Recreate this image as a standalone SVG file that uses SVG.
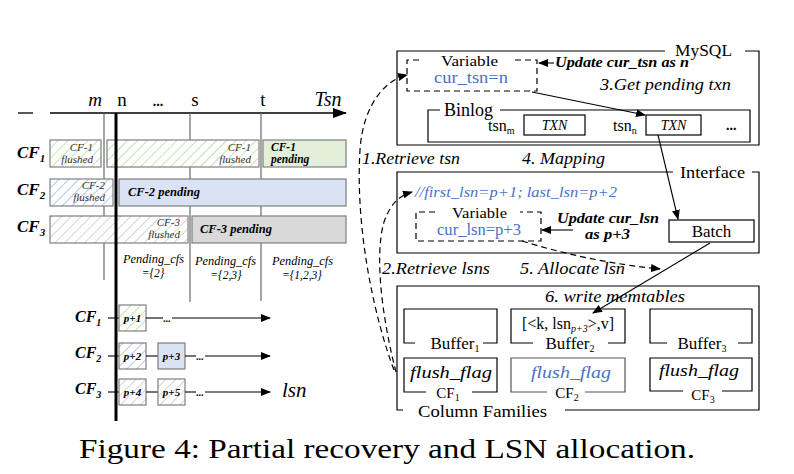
<svg xmlns="http://www.w3.org/2000/svg" width="794" height="474" viewBox="0 0 794 474" font-family="Liberation Serif, serif">
<style>
text{font-family:Liberation Serif,Tinos,Nimbus Roman,serif;fill:#000}
.it{font-style:italic}
.bi{font-style:italic;font-weight:bold}
.lbl{font-size:11px;font-style:italic;fill:#333}
.blue{fill:#4a72c8}
.box{fill:none;stroke:#000;stroke-width:1.2}
.gbox{stroke:#7f7f7f;stroke-width:1.2}
.dash{fill:none;stroke:#000;stroke-width:1.2;stroke-dasharray:6,4}
.vl{stroke:#6a6a6a;stroke-width:1.2}
.ln{stroke:#000;stroke-width:1.1;fill:none}
</style>
<defs>
<pattern id="hg" patternUnits="userSpaceOnUse" width="7" height="7" patternTransform="rotate(45)"><rect width="7" height="7" fill="#fff"/><line x1="0" y1="0" x2="0" y2="7" stroke="#a9d18e" stroke-width="1.3"/></pattern>
<pattern id="hb" patternUnits="userSpaceOnUse" width="7" height="7" patternTransform="rotate(45)"><rect width="7" height="7" fill="#fff"/><line x1="0" y1="0" x2="0" y2="7" stroke="#8faadc" stroke-width="1.3"/></pattern>
<pattern id="hy" patternUnits="userSpaceOnUse" width="7" height="7" patternTransform="rotate(45)"><rect width="7" height="7" fill="#fff"/><line x1="0" y1="0" x2="0" y2="7" stroke="#bfbfbf" stroke-width="1.3"/></pattern>
<marker id="ah" markerWidth="10" markerHeight="8" refX="9" refY="4" orient="auto" markerUnits="userSpaceOnUse"><path d="M0,0 L10,4 L0,8 z" fill="#000"/></marker>
<marker id="big" markerWidth="14" markerHeight="10" refX="13" refY="5" orient="auto" markerUnits="userSpaceOnUse"><path d="M0,0 L14,5 L0,10 z" fill="#000"/></marker>
</defs>

<!-- ===== Left: timeline ===== -->
<g id="timeline">
<line x1="18" y1="113" x2="33" y2="113" stroke="#000" stroke-width="1.3"/>
<line x1="50" y1="113" x2="346" y2="113" stroke="#000" stroke-width="1.5" marker-end="url(#big)"/>
<text x="95" y="106" font-size="19" class="it" text-anchor="middle">m</text>
<text x="122" y="106" font-size="19" text-anchor="middle">n</text>
<text x="158" y="106" font-size="14" text-anchor="middle" font-weight="bold">...</text>
<text x="195" y="106" font-size="19" text-anchor="middle">s</text>
<text x="263" y="106" font-size="19" text-anchor="middle">t</text>
<text x="328" y="106" font-size="20" class="it" text-anchor="middle">Tsn</text>
<line x1="104" y1="113" x2="104" y2="280" class="vl"/>
<line x1="190" y1="113" x2="190" y2="302" class="vl"/>
<line x1="261" y1="113" x2="261" y2="301" class="vl"/>
</g>

<g id="row-cf1">
<text x="17" y="158" font-size="17" class="bi">CF<tspan dy="4" font-size="11">1</tspan></text>
<rect x="50" y="140" width="51" height="27" fill="url(#hg)" class="gbox"/>
<text x="93" y="151" class="lbl" text-anchor="end">CF-1</text>
<text x="93" y="163" class="lbl" text-anchor="end">flushed</text>
<rect x="107" y="140" width="152" height="27" fill="url(#hg)" class="gbox"/>
<text x="251" y="151" class="lbl" text-anchor="end">CF-1</text>
<text x="251" y="163" class="lbl" text-anchor="end">flushed</text>
<rect x="263" y="140" width="83" height="27" fill="#e2efd9" class="gbox"/>
<text x="271" y="151" font-size="11.5" class="bi">CF-1</text>
<text x="271" y="163" font-size="11.5" class="bi">pending</text>
</g>

<g id="row-cf2">
<text x="17" y="195" font-size="17" class="bi">CF<tspan dy="4" font-size="11">2</tspan></text>
<rect x="50" y="179" width="63" height="27" fill="url(#hb)" class="gbox"/>
<text x="105" y="189" class="lbl" text-anchor="end">CF-2</text>
<text x="105" y="201" class="lbl" text-anchor="end">flushed</text>
<rect x="119" y="179" width="227" height="27" fill="#dae3f3" class="gbox"/>
<text x="128" y="196" font-size="12.5" class="bi">CF-2 pending</text>
</g>

<g id="row-cf3">
<text x="17" y="232" font-size="17" class="bi">CF<tspan dy="4" font-size="11">3</tspan></text>
<rect x="50" y="216" width="138" height="27" fill="url(#hy)" class="gbox"/>
<text x="180" y="226" class="lbl" text-anchor="end">CF-3</text>
<text x="180" y="238" class="lbl" text-anchor="end">flushed</text>
<rect x="192" y="216" width="154" height="27" fill="#d9d9d9" class="gbox"/>
<text x="200" y="233" font-size="12.5" class="bi">CF-3 pending</text>
</g>

<g id="pending-labels">
<text x="123" y="263" class="it" font-size="11.5" textLength="61" lengthAdjust="spacingAndGlyphs">Pending_cfs</text>
<text x="153" y="277" class="it" text-anchor="middle" font-size="11.5">={2}</text>
<text x="195" y="265" class="it" font-size="11.5" textLength="61" lengthAdjust="spacingAndGlyphs">Pending_cfs</text>
<text x="226" y="279" class="it" text-anchor="middle" font-size="11.5">={2,3}</text>
<text x="272" y="265" class="it" font-size="11.5" textLength="61" lengthAdjust="spacingAndGlyphs">Pending_cfs</text>
<text x="302" y="279" class="it" text-anchor="middle" font-size="11.5">={1,2,3}</text>
</g>

<!-- lsn rows -->
<g id="lsn-cf1">
<text x="75" y="322" font-size="16" class="bi">CF<tspan dy="4" font-size="10">1</tspan></text>
<line x1="108" y1="318" x2="119" y2="318" class="ln"/>
<rect x="119" y="305" width="27" height="26" fill="url(#hg)" class="gbox"/>
<text x="132.5" y="322" font-size="11" class="bi" text-anchor="middle">p+1</text>
<line x1="146" y1="318" x2="163" y2="318" class="ln"/>
<text x="163" y="322" font-size="10" font-weight="bold">...</text>
<line x1="172" y1="318" x2="270" y2="318" class="ln" marker-end="url(#ah)"/>
</g>
<g id="lsn-cf2">
<text x="75" y="358" font-size="16" class="bi">CF<tspan dy="4" font-size="10">2</tspan></text>
<line x1="108" y1="356" x2="119" y2="356" class="ln"/>
<rect x="119" y="343" width="27" height="26" fill="url(#hb)" class="gbox"/>
<text x="132.5" y="360" font-size="11" class="bi" text-anchor="middle">p+2</text>
<line x1="146" y1="356" x2="158" y2="356" class="ln"/>
<rect x="158" y="343" width="27" height="26" fill="#dae3f3" class="gbox"/>
<text x="171.5" y="360" font-size="11" class="bi" text-anchor="middle">p+3</text>
<line x1="185" y1="356" x2="196" y2="356" class="ln"/>
<text x="196" y="360" font-size="10" font-weight="bold">...</text>
<line x1="205" y1="356" x2="270" y2="356" class="ln" marker-end="url(#ah)"/>
</g>
<g id="lsn-cf3">
<text x="75" y="394" font-size="16" class="bi">CF<tspan dy="4" font-size="10">3</tspan></text>
<line x1="108" y1="392" x2="119" y2="392" class="ln"/>
<rect x="119" y="379" width="27" height="26" fill="url(#hy)" class="gbox"/>
<text x="132.5" y="396" font-size="11" class="bi" text-anchor="middle">p+4</text>
<line x1="146" y1="392" x2="158" y2="392" class="ln"/>
<rect x="158" y="379" width="27" height="26" fill="url(#hy)" class="gbox"/>
<text x="171.5" y="396" font-size="11" class="bi" text-anchor="middle">p+5</text>
<line x1="185" y1="392" x2="196" y2="392" class="ln"/>
<text x="196" y="396" font-size="10" font-weight="bold">...</text>
<line x1="205" y1="392" x2="270" y2="392" class="ln" marker-end="url(#ah)"/>
<text x="282" y="397" font-size="21" class="it">lsn</text>
</g>
<line id="n-line" x1="116" y1="113" x2="116" y2="421" stroke="#000" stroke-width="3"/>

<!-- ===== Right: MySQL ===== -->
<g id="mysql">
<path d="M665,51 H397 V145 H759 V51 H745" class="box"/>
<text x="675" y="56" font-size="17" textLength="57" lengthAdjust="spacingAndGlyphs">MySQL</text>
</g>
<g id="var-tsn">
<path d="M419,60 H407 V91 H537 V60 H512" class="dash"/>
<text x="441" y="66" font-size="14" textLength="57" lengthAdjust="spacingAndGlyphs">Variable</text>
<text x="434" y="83" font-size="16" class="blue" textLength="74" lengthAdjust="spacingAndGlyphs">cur_tsn=n</text>
</g>
<text x="555" y="67" font-size="14" class="bi" textLength="134" lengthAdjust="spacingAndGlyphs">Update cur_tsn as n</text>
<text x="600" y="90" font-size="17" class="it" textLength="131" lengthAdjust="spacingAndGlyphs">3.Get pending txn</text>
<g id="binlog">
<path d="M440,110 H428 V142 H750 V110 H500" class="box"/>
<text x="444" y="116" font-size="18">Binlog</text>
<text x="488" y="131" font-size="16">tsn<tspan dy="3" font-size="10">m</tspan></text>
<rect x="524" y="115" width="61" height="20" class="box"/>
<text x="554.5" y="130" font-size="14" class="it" text-anchor="middle">TXN</text>
<text x="613" y="131" font-size="16">tsn<tspan dy="3" font-size="10">n</tspan></text>
<rect x="646" y="115" width="55" height="20" class="box"/>
<text x="673.5" y="130" font-size="14" class="it" text-anchor="middle">TXN</text>
<text x="726" y="130" font-size="14" font-weight="bold">...</text>
</g>

<text x="362" y="164" font-size="16" class="it" textLength="98" lengthAdjust="spacingAndGlyphs">1.Retrieve tsn</text>
<text x="522" y="164" font-size="16" class="it" textLength="83" lengthAdjust="spacingAndGlyphs">4. Mapping</text>

<g id="interface">
<path d="M673,172 H397 V253 H759 V172 H752" class="box"/>
<text x="680" y="178" font-size="17" textLength="65" lengthAdjust="spacingAndGlyphs">Interface</text>
<text x="415" y="197" font-size="14.5" class="it blue" textLength="202" lengthAdjust="spacingAndGlyphs">//first_lsn=p+1; last_lsn=p+2</text>
</g>
<g id="var-lsn">
<path d="M435,212 H416 V241 H541 V212 H520" class="dash"/>
<text x="452" y="218" font-size="15" textLength="55" lengthAdjust="spacingAndGlyphs">Variable</text>
<text x="437" y="235" font-size="16" class="blue" textLength="84" lengthAdjust="spacingAndGlyphs">cur_lsn=p+3</text>
</g>
<text x="557" y="223" font-size="14" class="bi" textLength="102" lengthAdjust="spacingAndGlyphs">Update cur_lsn</text>
<text x="585" y="239" font-size="14" class="bi" textLength="45" lengthAdjust="spacingAndGlyphs">as p+3</text>
<g id="batch">
<rect x="669" y="220" width="85" height="22" class="box"/>
<text x="711.5" y="237" font-size="17" text-anchor="middle">Batch</text>
</g>

<text x="382" y="274" font-size="16" class="it" textLength="108" lengthAdjust="spacingAndGlyphs">2.Retrieve lsns</text>
<text x="520" y="274" font-size="16" class="it" textLength="105" lengthAdjust="spacingAndGlyphs">5. Allocate lsn</text>

<g id="column-families">
<path d="M403,410 H397 V286 H759 V410 H565" class="box"/>
<text x="418" y="417" font-size="17" textLength="129" lengthAdjust="spacingAndGlyphs">Column Families</text>
<text x="545" y="302" font-size="16" class="it" textLength="140" lengthAdjust="spacingAndGlyphs">6. write memtables</text>
</g>
<g id="buffer1">
<path d="M415,343 H404 V309 H497 V343 H483" class="box"/>
<text x="455" y="349" font-size="17" text-anchor="middle">Buffer<tspan dy="3" font-size="10">1</tspan></text>
</g>
<g id="buffer2">
<path d="M533,343 H511 V309 H625 V343 H608" class="box"/>
<text x="568" y="329" font-size="16" text-anchor="middle">[&lt;k, lsn<tspan dy="3" font-size="10" class="it">p+3</tspan><tspan dy="-3">&gt;,v]</tspan></text>
<text x="570" y="349" font-size="17" text-anchor="middle">Buffer<tspan dy="3" font-size="10">2</tspan></text>
</g>
<g id="buffer3">
<path d="M667,343 H650 V309 H752 V343 H738" class="box"/>
<text x="702" y="349" font-size="17" text-anchor="middle">Buffer<tspan dy="3" font-size="10">3</tspan></text>
</g>
<g id="cf1">
<path d="M426,392 H404 V358 H497 V392 H472" class="box"/>
<text x="410" y="378" font-size="17" class="it" textLength="82" lengthAdjust="spacingAndGlyphs">flush_flag</text>
<text x="448" y="398" font-size="15" text-anchor="middle">CF<tspan dy="3" font-size="10">1</tspan></text>
</g>
<g id="cf2">
<path d="M547,392 H511 V358 H625 V392 H585" fill="none" stroke="#555" stroke-width="1.2"/>
<text x="531" y="378" font-size="17" class="it blue" textLength="80" lengthAdjust="spacingAndGlyphs">flush_flag</text>
<text x="567" y="398" font-size="15" text-anchor="middle">CF<tspan dy="3" font-size="10">2</tspan></text>
</g>
<g id="cf3">
<path d="M683,391 H650 V358 H752 V391 H722" class="box"/>
<text x="659" y="376" font-size="17" class="it" textLength="80" lengthAdjust="spacingAndGlyphs">flush_flag</text>
<text x="703" y="400" font-size="15" text-anchor="middle">CF<tspan dy="3" font-size="10">3</tspan></text>
</g>

<!-- connectors -->
<g id="connectors">
<line x1="554" y1="63" x2="539" y2="63" class="ln" marker-end="url(#ah)"/>
<line x1="532" y1="92" x2="645" y2="115" class="ln" marker-end="url(#ah)"/>
<line x1="658" y1="135" x2="678" y2="219" class="ln" marker-end="url(#ah)"/>
<line x1="573" y1="230" x2="542" y2="230" class="ln" marker-end="url(#ah)"/>
<path d="M522,241 Q590,262 660,269" class="dash" stroke-width="1.1" marker-end="url(#ah)"/>
<line x1="710" y1="243" x2="593" y2="313" class="ln" marker-end="url(#ah)"/>
<path d="M394,370 C375,320 355,230 360,150 C363,105 385,80 407,75" class="dash" stroke-width="1.1" marker-end="url(#ah)"/>
<path d="M396,372 C385,330 373,260 384,222 C390,205 398,196 412,192" class="dash" stroke-width="1.1" marker-end="url(#ah)"/>
</g>

<text x="79" y="458" font-size="27" textLength="616" lengthAdjust="spacingAndGlyphs">Figure 4: Partial recovery and LSN allocation.</text>
</svg>
